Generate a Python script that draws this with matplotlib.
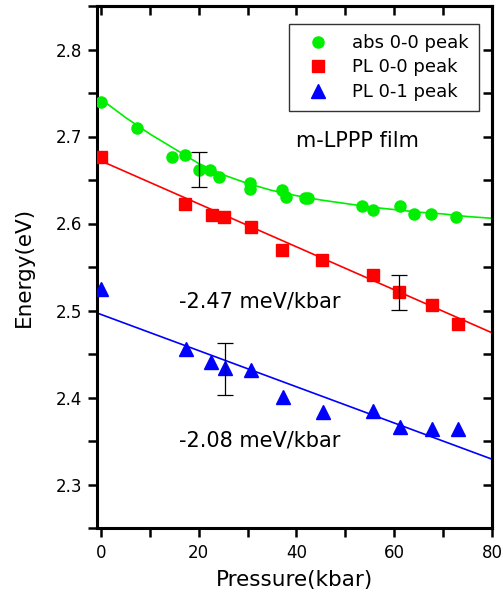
import matplotlib
matplotlib.use("Agg")
import matplotlib.pyplot as plt
import numpy as np
from matplotlib.ticker import MultipleLocator

# ---- data ----
abs_x = [0.0, 7.3, 14.6, 17.3, 20.0, 22.4, 24.1, 30.4, 30.4, 37.1, 37.8, 41.8, 42.3,
         53.4, 55.7, 61.1, 64.1, 67.5, 72.6]
abs_y = [2.740, 2.710, 2.677, 2.679, 2.662, 2.662, 2.654, 2.646, 2.640, 2.639, 2.631,
         2.629, 2.629, 2.620, 2.615, 2.620, 2.611, 2.611, 2.607]

pl00_x = [0.0, 17.3, 22.7, 25.1, 30.6, 37.1, 45.2, 55.6, 61.0, 67.7, 73.1]
pl00_y = [2.676, 2.622, 2.610, 2.608, 2.596, 2.570, 2.558, 2.541, 2.521, 2.506, 2.484]

pl01_x = [0.1, 17.5, 22.6, 25.4, 30.6, 37.2, 45.4, 55.7, 61.2, 67.7, 73.1]
pl01_y = [2.525, 2.456, 2.441, 2.434, 2.432, 2.401, 2.383, 2.385, 2.366, 2.364, 2.364]

# fitted curve for absorption
abs_fit_x = [-0.8, 0, 5, 10, 15, 20, 25, 30, 35, 40, 45, 50, 55, 60, 65, 70, 75, 80]
abs_fit_y = [2.746, 2.743, 2.722, 2.703, 2.686, 2.669, 2.656, 2.646, 2.638, 2.632,
             2.627, 2.623, 2.619, 2.616, 2.613, 2.611, 2.608, 2.606]

# linear fits (intercept eV, slope eV/kbar)
pl00_fit = (2.672, -0.00247)
pl01_fit = (2.4955, -0.00208)

# error bars (x, y, half-width)
abs_err = (20.0, 2.662, 0.020)
pl00_err = (61.0, 2.521, 0.020)
pl01_err = (25.4, 2.4325, 0.030)

labels = ["abs 0-0 peak", "PL 0-0 peak", "PL 0-1 peak"]
slope_labels = ["-2.47 meV/kbar", "-2.08 meV/kbar"]

GREEN = "#00ee00"
RED = "#ff0000"
BLUE = "#0000ff"

fig = plt.figure(figsize=(5.03, 5.94), dpi=100)
ax = fig.add_axes([97/503, 66/594, (492-97)/503, (528-6)/594])

xlim = (-0.8, 80)
ax.set_xlim(*xlim)
ax.set_ylim(2.25, 2.85)

# fit lines
ax.plot(abs_fit_x, abs_fit_y, color=GREEN, lw=1.2, zorder=2)
xx = np.array(xlim)
ax.plot(xx, pl00_fit[0] + pl00_fit[1]*xx, color=RED, lw=1.2, zorder=2)
ax.plot(xx, pl01_fit[0] + pl01_fit[1]*xx, color=BLUE, lw=1.2, zorder=2)

# data points
ax.plot(abs_x, abs_y, 'o', color=GREEN, ms=8, mec=GREEN, ls='none', zorder=3, label=labels[0])
ax.plot(pl00_x, pl00_y, 's', color=RED, ms=8.5, mec=RED, ls='none', zorder=3, label=labels[1])
ax.plot(pl01_x, pl01_y, '^', color=BLUE, ms=10, mec=BLUE, ls='none', zorder=3, label=labels[2])

# error bars
for ex, ey, ee in (abs_err, pl00_err, pl01_err):
    ax.errorbar([ex], [ey], yerr=[ee], fmt='none', ecolor='black', elinewidth=0.9,
                capsize=6, capthick=0.9, zorder=4)

# annotations
ax.text(40.0, 2.6885, "m-LPPP film", fontsize=15, ha='left', va='baseline')
ax.text(16.0, 2.5032, slope_labels[0], fontsize=15, ha='left', va='baseline')
ax.text(16.0, 2.344, slope_labels[1], fontsize=15, ha='left', va='baseline')

# axes styling
for s in ax.spines.values():
    s.set_linewidth(2.2)
ax.xaxis.set_minor_locator(MultipleLocator(10))
ax.yaxis.set_minor_locator(MultipleLocator(0.05))
ax.tick_params(axis='both', which='both', width=1.8, length=6.5, labelsize=12)
ax.tick_params(axis='x', which='both', direction='out', top=False, pad=5)
ax.tick_params(axis='y', which='both', direction='out', right=False, pad=4)

# top/right mirrored ticks pointing inward
secx = ax.secondary_xaxis('top')
secx.xaxis.set_major_locator(MultipleLocator(10))
secx.tick_params(direction='in', length=6.5, width=1.8, labeltop=False)
secx.spines['top'].set_linewidth(2.2)
secy = ax.secondary_yaxis('right')
secy.yaxis.set_major_locator(MultipleLocator(0.05))
secy.tick_params(direction='in', length=6.5, width=1.8, labelright=False)
secy.spines['right'].set_linewidth(2.2)

ax.set_xticks([0, 20, 40, 60, 80])
ax.set_xticklabels(["0", "20", "40", "60", "80"])
ax.set_yticks([2.3, 2.4, 2.5, 2.6, 2.7, 2.8])
ax.set_yticklabels(["2.3", "2.4", "2.5", "2.6", "2.7", "2.8"])

ax.set_xlabel("Pressure(kbar)", fontsize=15.5, labelpad=6)
ax.set_ylabel("Energy(eV)", fontsize=15.5, labelpad=16)

leg = ax.legend(loc='upper right', bbox_to_anchor=(0.967, 0.9655), borderaxespad=0,
                fancybox=False, frameon=True, edgecolor='black', fontsize=13,
                handlelength=2.1, handletextpad=0.85, borderpad=0.55, labelspacing=0.36)
leg.get_frame().set_linewidth(1.0)

fig.savefig("out.png", dpi=100)
